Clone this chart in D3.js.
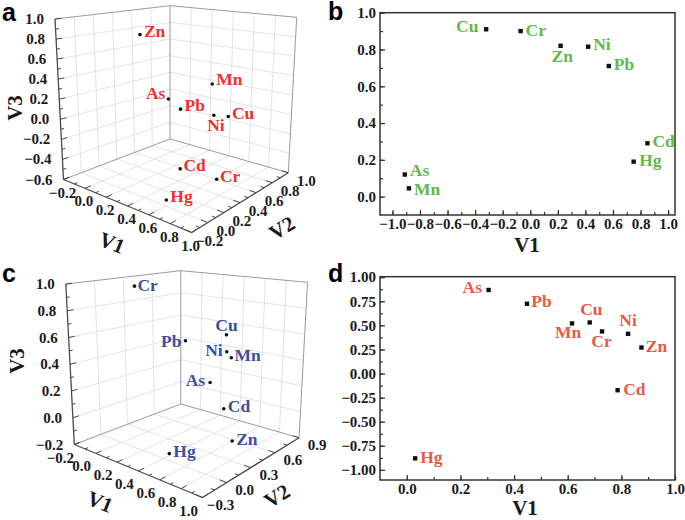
<!DOCTYPE html>
<html><head><meta charset="utf-8">
<script src="https://cdn.jsdelivr.net/npm/d3@7"></script>
<style>
body{margin:0;background:#fff}
svg{display:block}
text{font-family:"Liberation Serif","Times New Roman",serif;font-weight:bold}
.letter{font-family:"Liberation Sans",Arial,sans-serif;font-weight:bold}
</style>
</head><body>
<svg id="chart" width="685" height="520"></svg>
<script>
// ---------------- DATA ----------------
// Panel a (3D, red)
const aNames = ["Zn","Mn","As","Pb","Ni","Cu","Cd","Cr","Hg"];
const aV1 = [0.30, 0.47, 0.05, 0.42, 0.49, 0.87, 0.66, 0.675, 0.67];
const aV2 = [0.10, 0.70, 0.70, 0.40, 0.70, 0.40, 0.10, 0.52, -0.08];
const aV3 = [0.89, 0.30, 0.04, 0.12, -0.02, 0.16, -0.28, -0.54, -0.49];
// Panel b (2D, green)
const bNames = ["Cu","Cr","Zn","Ni","Pb","Cd","Hg","As","Mn"];
const bV1 = [-0.32, -0.07, 0.22, 0.42, 0.57, 0.85, 0.75, -0.91, -0.88];
const bV2 = [0.91, 0.90, 0.82, 0.815, 0.71, 0.29, 0.19, 0.12, 0.045];
// Panel c (3D, blue)
const cNames = ["Cr","Cu","Pb","Ni","Mn","As","Cd","Zn","Hg"];
const cV1 = [-0.10, 0.50, 0.61, 0.75, 0.55, 0.35, 0.73, 0.72, 0.55];
const cV2 = [0.30, 0.60, 0.00, 0.30, 0.60, 0.60, 0.30, 0.42, -0.12];
const cV3 = [0.94, 0.59, 0.67, 0.56, 0.42, 0.19, 0.15, -0.12, -0.09];
// Panel d (2D, orange-red)
const dNames = ["As","Pb","Mn","Cu","Cr","Ni","Zn","Cd","Hg"];
const dV1 = [0.305, 0.448, 0.616, 0.682, 0.728, 0.825, 0.875, 0.786, 0.031];
const dV2 = [0.867, 0.724, 0.520, 0.530, 0.437, 0.412, 0.270, -0.173, -0.880];

// tick values
const aTicksV1 = [-0.2, 0.0, 0.2, 0.4, 0.6, 0.8, 1.0];
const aTicksV2 = [-0.2, 0.0, 0.2, 0.4, 0.6, 0.8, 1.0];
const aTicksV3 = [-0.6, -0.4, -0.2, 0.0, 0.2, 0.4, 0.6, 0.8, 1.0];
const cTicksV1 = [-0.2, 0.0, 0.2, 0.4, 0.6, 0.8, 1.0];
const cTicksV2 = [-0.3, 0.0, 0.3, 0.6, 0.9];
const cTicksV3 = [-0.2, 0.0, 0.2, 0.4, 0.6, 0.8, 1.0];
const bTicksX = [-1.0, -0.8, -0.6, -0.4, -0.2, 0.0, 0.2, 0.4, 0.6, 0.8, 1.0];
const bTicksY = [0.0, 0.2, 0.4, 0.6, 0.8, 1.0];
const dTicksX = [0.0, 0.2, 0.4, 0.6, 0.8, 1.0];
const dTicksY = [-1.00, -0.75, -0.50, -0.25, 0.00, 0.25, 0.50, 0.75, 1.00];

// ---------------- LAYOUT ----------------
const svg = d3.select("#chart");
svg.append("defs").append("clipPath").attr("id","rightHalf")
  .append("rect").attr("x",340).attr("y",0).attr("width",345).attr("height",520);

const boxA = {L0:[63.5,179.5], F0:[191.7,232.5], R0:[288.3,172.7], B0:[170,139],
              L1:[55,19], F1:[192,39.1], R1:[296.7,17.3], B1:[170,5.7]};
function shiftBox(b, dx, dy){ const o={}; for(const k in b) o[k]=[b[k][0]+dx, b[k][1]+dy]; return o; }
const boxC = shiftBox(boxA, 10.8, 265);

const labA = {Zn:[4,2,"start"],Mn:[4,1,"start"],As:[-3,0,"end"],Pb:[4,2,"start"],Ni:[-6.6,15.7,"start"],
              Cu:[3.7,2.7,"start"],Cd:[3.3,2.4,"start"],Cr:[3.3,2.4,"start"],Hg:[4,2,"start"]};
const labC = {Cr:[3,5,"start"],Cu:[0,-4.3,"middle"],Pb:[-4,6.3,"end"],Ni:[-4,4,"end"],Mn:[3.3,3.4,"start"],
              As:[-5,3.3,"end"],Cd:[4,3.7,"start"],Zn:[4,4.3,"start"],Hg:[4,3.3,"start"]};
const labB = {Cu:[-7.7,3,"end"],Cr:[5,5,"start"],Zn:[1.7,15.7,"middle"],Ni:[5,3.3,"start"],Pb:[5,4.3,"start"],
              Cd:[5,3.3,"start"],Hg:[5.6,4,"start"],As:[5,1,"start"],Mn:[5,6.7,"start"]};
const labD = {As:[-6.6,3.3,"end"],Pb:[4.4,3,"start"],Cu:[1.7,-7.3,"middle"],Mn:[-4,15,"middle"],Cr:[-0.6,16,"middle"],
              Ni:[0,-7.7,"middle"],Zn:[4.3,4.4,"start"],Cd:[5.6,5,"start"],Hg:[5,4.7,"start"]};

function bil(p00,p10,p11,p01,u,v){
  return [0,1].map(i => (1-u)*(1-v)*p00[i] + u*(1-v)*p10[i] + u*v*p11[i] + (1-u)*v*p01[i]);
}
function tri(b,u,v,w){
  const f = bil(b.L0,b.F0,b.R0,b.B0,u,v), t = bil(b.L1,b.F1,b.R1,b.B1,u,v);
  return [f[0]*(1-w)+t[0]*w, f[1]*(1-w)+t[1]*w];
}
const fmt1 = d3.format(".1f");
const TICKFONT = 15, TITLEFONT = 21, LABFONT = 17.5;

function draw3D(cfg){
  const g = svg.append("g");
  const su = d3.scaleLinear().domain(cfg.dom1).range([0,1]);
  const sv = d3.scaleLinear().domain(cfg.dom2).range([0,1]);
  const sw = d3.scaleLinear().domain(cfg.dom3).range([0,1]);
  const P = (u,v,w) => tri(cfg.box,u,v,w);
  const seg = (a,b,col,wd) => g.append("line").attr("x1",a[0]).attr("y1",a[1]).attr("x2",b[0]).attr("y2",b[1])
      .attr("stroke",col).attr("stroke-width",wd);
  const gridCol = "#dcdcdc";
  cfg.t1.forEach(t=>{const u=su(t); if(u>0.001&&u<0.999) seg(P(u,0,0),P(u,1,0),gridCol,0.8);});
  cfg.t2.forEach(t=>{const v=sv(t); if(v>0.001&&v<0.999) seg(P(0,v,0),P(1,v,0),gridCol,0.8);});
  cfg.t2.forEach(t=>{const v=sv(t); if(v>0.001&&v<0.999) seg(P(0,v,0),P(0,v,1),gridCol,0.8);});
  cfg.t3.forEach(t=>{const w=sw(t); if(w>0.001&&w<0.999) seg(P(0,0,w),P(0,1,w),gridCol,0.8);});
  cfg.t1.forEach(t=>{const u=su(t); if(u>0.001&&u<0.999) seg(P(u,1,0),P(u,1,1),gridCol,0.8);});
  cfg.t3.forEach(t=>{const w=sw(t); if(w>0.001&&w<0.999) seg(P(0,1,w),P(1,1,w),gridCol,0.8);});
  const edge="#9a9a9a";
  seg(P(0,1,0),P(0,1,1),edge,1);
  seg(P(1,1,0),P(1,1,1),edge,1);
  seg(P(0,0,1),P(0,1,1),edge,1);
  seg(P(0,1,1),P(1,1,1),edge,1);
  seg(P(0,0,0),P(0,1,0),edge,1);
  seg(P(0,1,0),P(1,1,0),edge,1);
  const ax="#4a4a4a";
  seg(P(0,0,0),P(0,0,1),ax,1.3);
  seg(P(0,0,0),P(1,0,0),ax,1.3);
  seg(P(1,0,0),P(1,1,0),ax,1.3);
  const TL=0.055, TS=0.03;
  const steps = (dom,step)=>{const out=[];for(let x=dom[0];x<=dom[1]+1e-9;x+=step)out.push(+x.toFixed(4));return out;};
  steps(cfg.dom3,cfg.m3).forEach(t=>{const w=sw(t); const L=cfg.t3.some(m=>Math.abs(m-t)<1e-6)?TL:TS; seg(P(0,0,w),P(0,L,w),ax,1);});
  steps(cfg.dom1,cfg.m1).forEach(t=>{const u=su(t); const L=cfg.t1.some(m=>Math.abs(m-t)<1e-6)?TL:TS; seg(P(u,0,0),P(u,L,0),ax,1);});
  steps(cfg.dom2,cfg.m2).forEach(t=>{const v=sv(t); const L=cfg.t2.some(m=>Math.abs(m-t)<1e-6)?TL:TS; seg(P(1,v,0),P(1-L,v,0),ax,1);});
  const tl = (x,y,s,anchor)=>g.append("text").attr("x",x).attr("y",y).attr("text-anchor",anchor)
      .attr("dominant-baseline","central").attr("font-size",TICKFONT).attr("fill","#1a1a1a").text(s);
  cfg.t3.forEach(t=>{const p=P(0,0,sw(t)); tl(p[0]-11,p[1],fmt1(t),"end");});
  cfg.t1.forEach(t=>{const p=P(su(t),0,0); tl(p[0]+cfg.off1[0],p[1]+cfg.off1[1],fmt1(t),"middle");});
  cfg.t2.forEach(t=>{const p=P(1,sv(t),0); tl(p[0]+cfg.off2[0],p[1]+cfg.off2[1],fmt1(t),"middle");});
  const title=(x,y,rot,s)=>g.append("text").attr("transform",`translate(${x},${y}) rotate(${rot})`)
      .attr("text-anchor","middle").attr("dominant-baseline","central").attr("font-size",TITLEFONT).attr("fill","#1a1a1a").text(s);
  title(cfg.tV3[0],cfg.tV3[1],-90,"V3");
  title(cfg.tV1[0],cfg.tV1[1],22,"V1");
  title(cfg.tV2[0],cfg.tV2[1],-32,"V2");
  cfg.names.forEach((n,i)=>{
    const p = P(su(cfg.x[i]),sv(cfg.y[i]),sw(cfg.z[i]));
    g.append("circle").attr("cx",p[0]).attr("cy",p[1]).attr("r",1.8).attr("fill","#111");
    const l = cfg.lab[n];
    g.append("text").attr("x",p[0]+l[0]).attr("y",p[1]+l[1]).attr("text-anchor",l[2])
      .attr("font-size",LABFONT).attr("fill",cfg.color).text(n);
  });
  svg.append("text").attr("class","letter").attr("x",cfg.letter[0]).attr("y",cfg.letter[1])
    .attr("font-size",25).attr("fill","#000").text(cfg.letterText);
}

function draw2D(cfg){
  const g = svg.append("g");
  const x = d3.scaleLinear().domain(cfg.xd).range([380,675]);
  const y = d3.scaleLinear().domain(cfg.yd).range(cfg.yr);
  const col="#333";
  g.append("g").attr("transform",`translate(0,${cfg.yr[0]})`)
    .call(d3.axisBottom(x).tickValues(cfg.xMinor).tickSize(-3).tickFormat("").tickSizeOuter(0))
    .call(s=>s.select(".domain").remove());
  g.append("g").attr("transform","translate(380,0)")
    .call(d3.axisLeft(y).tickValues(cfg.yMinor).tickSize(-3).tickFormat("").tickSizeOuter(0))
    .call(s=>s.select(".domain").remove());
  const xa = g.append("g").attr("transform",`translate(0,${cfg.yr[0]})`)
    .call(d3.axisBottom(x).tickValues(cfg.xt).tickSize(-5).tickPadding(3).tickSizeOuter(0).tickFormat(cfg.xf));
  xa.select(".domain").remove();
  const ya = g.append("g").attr("transform","translate(380,0)")
    .call(d3.axisLeft(y).tickValues(cfg.yt).tickSize(-5).tickPadding(4).tickSizeOuter(0).tickFormat(cfg.yf));
  ya.select(".domain").remove();
  g.selectAll(".tick line").attr("stroke",col).attr("stroke-width",1.2);
  g.selectAll(".tick text").attr("font-size",TICKFONT).attr("font-family","Liberation Serif, serif")
    .attr("font-weight","bold").attr("fill","#1a1a1a");
  g.append("rect").attr("x",380).attr("y",cfg.yr[1]).attr("width",295).attr("height",cfg.yr[0]-cfg.yr[1])
    .attr("fill","none").attr("stroke",col).attr("stroke-width",1.5);
  g.append("text").attr("x",cfg.tX[0]).attr("y",cfg.tX[1]).attr("text-anchor","middle")
    .attr("dominant-baseline","central").attr("font-size",TITLEFONT).attr("fill","#1a1a1a").text("V1");
  g.append("text").attr("clip-path","url(#rightHalf)")
    .attr("transform",`translate(${cfg.tY[0]},${cfg.tY[1]}) rotate(-90)`).attr("text-anchor","middle")
    .attr("dominant-baseline","central").attr("font-size",TITLEFONT).attr("fill","#1a1a1a").text("V2");
  cfg.names.forEach((n,i)=>{
    const px=x(cfg.xs[i]), py=y(cfg.ys[i]);
    g.append("rect").attr("x",px-2.2).attr("y",py-2.2).attr("width",4.4).attr("height",4.4).attr("fill","#111");
    const l=cfg.lab[n];
    g.append("text").attr("x",px+l[0]).attr("y",py+l[1]).attr("text-anchor",l[2])
      .attr("font-size",LABFONT).attr("fill",cfg.color).text(n);
  });
  svg.append("text").attr("class","letter").attr("x",cfg.letter[0]).attr("y",cfg.letter[1])
    .attr("font-size",25).attr("fill","#000").text(cfg.letterText);
}

draw3D({box:boxA, dom1:[-0.2,1.0], dom2:[-0.2,1.0], dom3:[-0.6,1.0], t1:aTicksV1, t2:aTicksV2, t3:aTicksV3,
  m1:0.1, m2:0.1, m3:0.1, off1:[-1,13], off2:[18,8.5],
  tV3:[15,108], tV1:[112,243], tV2:[282,228],
  names:aNames, x:aV1, y:aV2, z:aV3, lab:labA, color:"#ec3330", letter:[2,21], letterText:"a"});
draw3D({box:boxC, dom1:[-0.2,1.0], dom2:[-0.3,0.9], dom3:[-0.2,1.0], t1:cTicksV1, t2:cTicksV2, t3:cTicksV3,
  m1:0.1, m2:0.15, m3:0.1, off1:[-14,13], off2:[18,7],
  tV3:[17,361], tV1:[100,502], tV2:[277,496],
  names:cNames, x:cV1, y:cV2, z:cV3, lab:labC, color:"#3b4f9f", letter:[2,282], letterText:"c"});

const range = (a,b,s)=>{const o=[];for(let v=a;v<=b+1e-9;v+=s)o.push(+v.toFixed(4));return o;};
draw2D({xd:[-1.09,1.05], yd:[-0.1,1.0], yr:[215,12.7], xt:bTicksX, yt:bTicksY,
  xMinor:range(-1.0,1.0,0.1), yMinor:range(0,1.0,0.1), xf:d3.format(".1f"), yf:d3.format(".1f"),
  tX:[527,245], tY:[346,112], names:bNames, xs:bV1, ys:bV2, lab:labB, color:"#62b849",
  letter:[328,20], letterText:"b"});
draw2D({xd:[-0.1,1.0], yd:[-1.105,1.005], yr:[480,276.7], xt:dTicksX, yt:dTicksY,
  xMinor:range(0,1.0,0.1), yMinor:range(-1.0,1.0,0.125), xf:d3.format(".1f"), yf:d3.format(".2f"),
  tX:[525,508], tY:[339,372], names:dNames, xs:dV1, ys:dV2, lab:labD, color:"#e85a45",
  letter:[328,282], letterText:"d"});
</script>
</body></html>
